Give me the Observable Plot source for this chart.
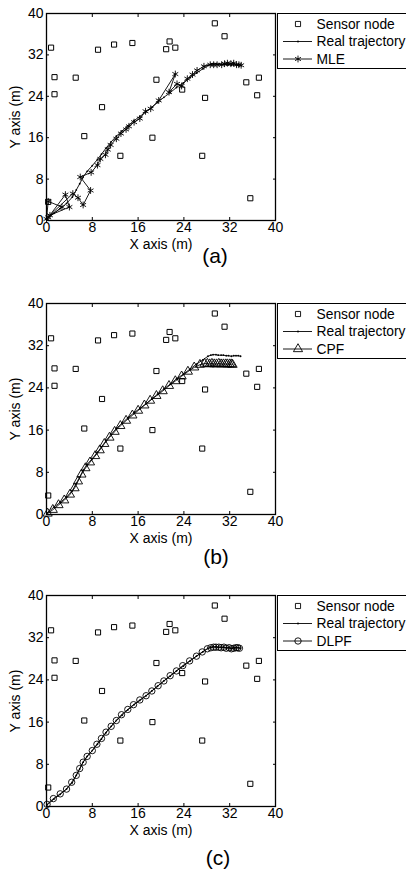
<!DOCTYPE html>
<html><head><meta charset="utf-8">
<script src="https://cdn.jsdelivr.net/npm/d3@7"></script>
<script src="https://cdn.jsdelivr.net/npm/@observablehq/plot@0.6"></script>
<style>
body{margin:0;background:#fff;}
#fig{position:relative;width:406px;height:869px;overflow:hidden;font-family:"Liberation Sans",Arial,sans-serif;color:#000;background:#fff;}
.panel{position:absolute;left:0;}
.legend{position:absolute;left:277px;width:140px;height:56px;border:1px solid #000;background:#fff;box-sizing:border-box;}
.caption{position:absolute;font-size:21px;transform:translate(-50%,-50%);line-height:1;}
</style></head>
<body><div id="fig"></div>
<script>
// ---- data ----
const xTicks = [0, 8, 16, 24, 32, 40];
const yTicks = [0, 8, 16, 24, 32, 40];
const panelLabels = ["(a)", "(b)", "(c)"];
const legendNames = ["Sensor node", "Real trajectory"];
const estimatorNames = ["MLE", "CPF", "DLPF"];

const sensorX = [0.8,1.4,1.4,0.3,5.1,6.6,9.7,9.0,11.8,15.0,12.9,18.5,19.2,20.9,21.5,22.5,23.7,27.2,27.7,29.4,31.1,34.9,37.1,36.8,35.6];
const sensorY = [33.4,27.7,24.4,3.6,27.6,16.3,21.9,33.0,34.0,34.3,12.5,16.0,27.2,33.1,34.6,33.4,25.3,12.5,23.7,38.1,35.6,26.7,27.6,24.2,4.3];

const realX = [0.1,1.3,2.4,3.5,4.5,5.2,5.8,6.4,7.1,8.0,8.9,9.6,10.4,11.3,12.2,13.2,14.2,15.3,16.3,17.4,18.4,19.4,20.5,21.6,22.7,23.9,25.1,26.2,27.3,28.2,28.7,29.1,29.6,30.0,30.5,30.9,31.4,31.8,32.3,32.7,33.1,33.5,33.9];
const realY = [0.3,1.4,2.3,3.3,4.5,5.9,7.1,8.4,9.5,10.6,11.8,12.8,14.0,15.2,16.3,17.3,18.3,19.3,20.1,21.0,21.9,22.8,23.8,24.7,25.7,26.6,27.6,28.5,29.3,30.0,30.2,30.3,30.3,30.2,30.2,30.2,30.1,30.1,30.0,30.1,30.1,30.1,30.0];

const mleX = [0.0,0.3,2.7,0.3,3.3,4.0,0.6,4.6,5.5,6.4,7.7,5.9,7.8,8.9,9.4,10.3,10.7,11.2,12.2,13.0,13.9,14.4,15.3,16.3,17.3,18.2,19.6,22.5,21.4,22.8,23.6,24.6,25.5,26.3,27.5,28.6,29.2,29.8,30.6,31.1,31.6,32.2,32.7,33.2,33.6,34.0];
const mleY = [0.3,3.7,2.6,0.6,5.0,2.6,1.0,5.2,4.4,3.0,5.8,8.4,9.3,10.7,11.9,12.7,13.7,14.6,15.8,16.8,17.6,18.2,19.0,19.7,21.1,21.6,23.2,28.3,24.8,26.4,26.0,27.4,28.2,29.0,29.8,30.1,30.1,30.1,30.1,30.3,30.4,30.3,30.4,30.1,30.1,30.0];

const cpfX = [0.2,1.1,2.1,3.1,4.1,4.9,5.5,6.1,6.8,7.6,8.5,9.3,10.1,11.0,11.9,12.9,13.9,15.0,16.0,17.1,18.1,19.2,20.3,21.4,22.5,23.6,24.7,25.8,26.8,27.6,28.1,28.5,28.9,29.3,29.7,30.1,30.5,30.9,31.3,31.6,32.0,32.3,32.5];
const cpfY = [0.2,0.9,1.8,2.7,3.8,5.0,6.3,7.6,8.8,9.9,11.1,12.2,13.4,14.6,15.7,16.8,17.8,18.8,19.7,20.7,21.6,22.5,23.4,24.4,25.3,26.2,27.1,27.9,28.4,28.6,28.6,28.5,28.6,28.5,28.5,28.6,28.5,28.5,28.5,28.5,28.5,28.5,28.4];

const dlpfX = [0.1,1.2,2.4,3.5,4.4,5.2,5.8,6.4,7.1,8.0,8.8,9.6,10.4,11.3,12.2,13.1,14.2,15.2,16.3,17.4,18.4,19.5,20.5,21.6,22.7,23.8,25.0,26.2,27.2,28.1,28.7,29.2,29.6,30.1,30.5,31.0,31.4,31.9,32.3,32.7,33.1,33.4,33.7];
const dlpfY = [0.4,1.5,2.4,3.3,4.6,5.9,7.2,8.4,9.5,10.6,11.8,12.9,14.1,15.2,16.3,17.4,18.4,19.3,20.2,21.0,21.9,22.9,23.8,24.8,25.7,26.7,27.6,28.5,29.3,29.9,30.1,30.2,30.2,30.2,30.1,30.2,30.0,30.1,29.9,30.0,30.1,30.1,30.0];

// ---- build tables ----
const zip = (xs, ys) => xs.map((x, i) => ({x, y: ys[i]}));
const sensors = zip(sensorX, sensorY);
const real = zip(realX, realY);
const estimates = [zip(mleX, mleY), zip(cpfX, cpfY), zip(dlpfX, dlpfY)];
const estSymbols = ["asterisk", "triangle", "circle"];
const estR = [3.2, 3.4, 3.2];

const FONT = '"Liberation Sans", Arial, sans-serif';
const INK = "#000";
const fig = document.getElementById("fig");

const panelTops = [0, 290, 582];
const innerH = [207, 211, 211];
const captionPos = [[215, 255], [216, 556], [218, 857]];

function estMarks(i, data) {
  const sym = estSymbols[i];
  return [
    Plot.line(real, {x: "x", y: "y", stroke: INK, strokeWidth: 0.9}),
    Plot.dot(real, {x: "x", y: "y", r: 0.9, fill: INK, stroke: "none"}),
    Plot.line(data, {x: "x", y: "y", stroke: INK, strokeWidth: 0.9}),
    Plot.dot(data, {x: "x", y: "y", symbol: sym, r: estR[i], stroke: INK, strokeWidth: 0.9, fill: "none"})
  ];
}

estimates.forEach((data, i) => {
  const mt = 13, mb = 32;
  const svg = Plot.plot({
    width: 280,
    height: mt + innerH[i] + mb,
    marginLeft: 46, marginRight: 5, marginTop: mt, marginBottom: mb,
    style: {fontFamily: FONT, fontSize: "14px", color: INK, background: "transparent", overflow: "visible"},
    x: {domain: [0, 40]},
    y: {domain: [0, 40]},
    marks: [
      Plot.axisX(xTicks, {anchor: "bottom", tickSize: 0, tickPadding: 2, fontSize: 14, label: "X axis (m)", labelAnchor: "center", labelOffset: 28, labelArrow: "none"}),
      Plot.axisX(xTicks, {anchor: "bottom", tickSize: -3, tickFormat: () => "", label: null}),
      Plot.axisX(xTicks, {anchor: "top", tickSize: -3, tickFormat: () => "", label: null}),
      Plot.axisY(yTicks, {anchor: "left", tickSize: 0, tickPadding: 3, fontSize: 14, label: "Y axis (m)", labelAnchor: "center", labelOffset: 36, labelArrow: "none"}),
      Plot.axisY(yTicks, {anchor: "left", tickSize: -3, tickFormat: () => "", label: null}),
      Plot.axisY(yTicks, {anchor: "right", tickSize: -3, tickFormat: () => "", label: null}),
      Plot.dot(sensors, {x: "x", y: "y", symbol: "square", r: 2.9, stroke: INK, strokeWidth: 1, fill: "none"}),
      ...estMarks(i, data),
      Plot.frame({stroke: INK, strokeWidth: 1.3})
    ]
  });
  const wrap = document.createElement("div");
  wrap.className = "panel";
  wrap.style.top = panelTops[i] + "px";
  wrap.appendChild(svg);
  fig.appendChild(wrap);

  // legend
  const lg = document.createElement("div");
  lg.className = "legend";
  lg.style.top = (panelTops[i] + mt) + "px";
  const ls = d3.create("svg").attr("width", 140).attr("height", 56)
    .style("position", "absolute").style("left", "-1px").style("top", "-1px")
    .style("font-family", FONT).style("font-size", "13.8px");
  const rows = [
    {name: legendNames[0], sym: d3.symbolSquare, size: 2.9 * 2.9 * Math.PI, line: false, fill: "none"},
    {name: legendNames[1], sym: d3.symbolCircle, size: 0.9 * 0.9 * Math.PI, line: true, fill: INK},
    {name: estimatorNames[i], sym: [d3.symbolAsterisk, d3.symbolTriangle, d3.symbolCircle][i], size: estR[i] * estR[i] * Math.PI, line: true, fill: "none"}
  ];
  const rowY = [11, 28.5, 46];
  rows.forEach((r, k) => {
    const g = ls.append("g").attr("transform", `translate(0,${rowY[k]})`);
    if (r.line) g.append("line").attr("x1", 6).attr("x2", 35).attr("stroke", INK).attr("stroke-width", 0.9);
    g.append("path").attr("d", d3.symbol(r.sym, r.size)()).attr("transform", "translate(21,0)")
      .attr("fill", r.fill).attr("stroke", INK).attr("stroke-width", r.fill === INK ? 0 : 0.9);
    g.append("text").attr("x", 39.5).attr("dy", "0.35em").attr("fill", INK).text(r.name);
  });
  lg.appendChild(ls.node());
  fig.appendChild(lg);

  const cap = document.createElement("div");
  cap.className = "caption";
  cap.style.left = captionPos[i][0] + "px";
  cap.style.top = captionPos[i][1] + "px";
  cap.textContent = panelLabels[i];
  fig.appendChild(cap);
});
</script>
</body></html>
